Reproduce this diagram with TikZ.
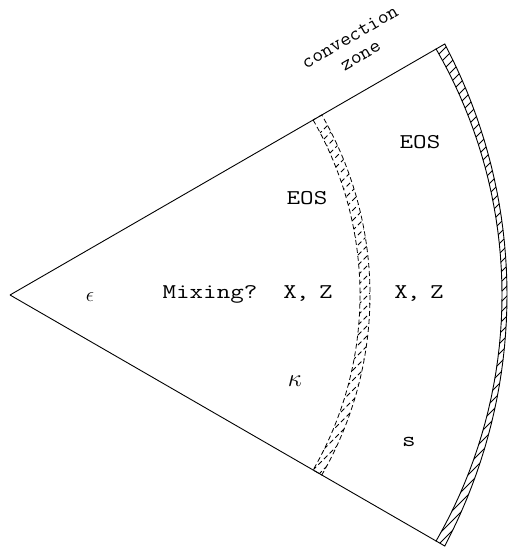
\documentclass[tikz,border=0pt]{standalone}
\usepackage{tikz}
\usetikzlibrary{calc}
\newcommand{\wide}[1]{\scalebox{1.25}[1]{#1}}

\begin{document}
\begin{tikzpicture}[
    x=1pt, y=1pt, line width=0.9pt,
    lbl/.style={font=\fontsize{21}{21}\selectfont\ttfamily, inner sep=0pt, align=center},
    hatch/.style={line width=0.8pt},
    dashhatch/.style={line width=0.8pt, dash pattern=on 5pt off 3pt},
]
\useasboundingbox (0,0) rectangle (508,553);

\coordinate (apex) at (10,258);
\coordinate (top) at ($(apex)+(30:492)$);
\coordinate (bot) at ($(apex)+(-30:492)$);

% wedge sides
\draw (apex) -- (top);
\draw (apex) -- (bot);

% outer hatched shell
\begin{scope}
\draw[clip] plot[domain=30:-30, samples=41] ({10+492*cos(\x)},{258+492*sin(\x)})
    -- plot[domain=-30:30, samples=41] ({10+(497+5*(\x/30)*(\x/30))*cos(\x)},{258+(497+5*(\x/30)*(\x/30))*sin(\x)})
    -- cycle;
\foreach \c in {-520,-510,...,180}
    \draw[hatch] (380,380+\c) -- (520,520+\c);
\end{scope}

% inner dashed hatched shell
\begin{scope}[dashhatch]
\draw[clip] ($(apex)+(30:350)$) arc[start angle=30, end angle=-30, radius=350]
    -- ($(apex)+(-30:360)$) arc[start angle=-30, end angle=30, radius=360] -- cycle;
\foreach \c in {-400,-390,...,100}
    \draw (290,290+\c) -- (390,390+\c);
\end{scope}

% labels
\node[lbl] (eps) at (90,256) {$\epsilon$};
\node[lbl] (mix) at (210,259) {\wide{Mixing?}};
\node[lbl] (eosin) at (307,355) {\wide{EOS}};
\node[lbl] (xzin) at (308,259) {\wide{X\kern-1pt,\kern-3pt\ Z}};
\node[lbl, font=\fontsize{27}{27}\selectfont] (kappa) at (295,172) {$\kappa$};
\node[lbl] (eosout) at (420,411) {\wide{EOS}};
\node[lbl] (xzout) at (419,259) {\wide{X\kern-1pt,\kern-3pt\ Z}};
\node[lbl] (s) at (409,111) {\wide{s}};
\node[lbl, rotate=30, font=\fontsize{20}{21}\selectfont\ttfamily] (conv) at (355,507) {\scalebox{1.05}[1]{convection}\\\scalebox{1.05}[1]{zone}};

\end{tikzpicture}
\end{document}
